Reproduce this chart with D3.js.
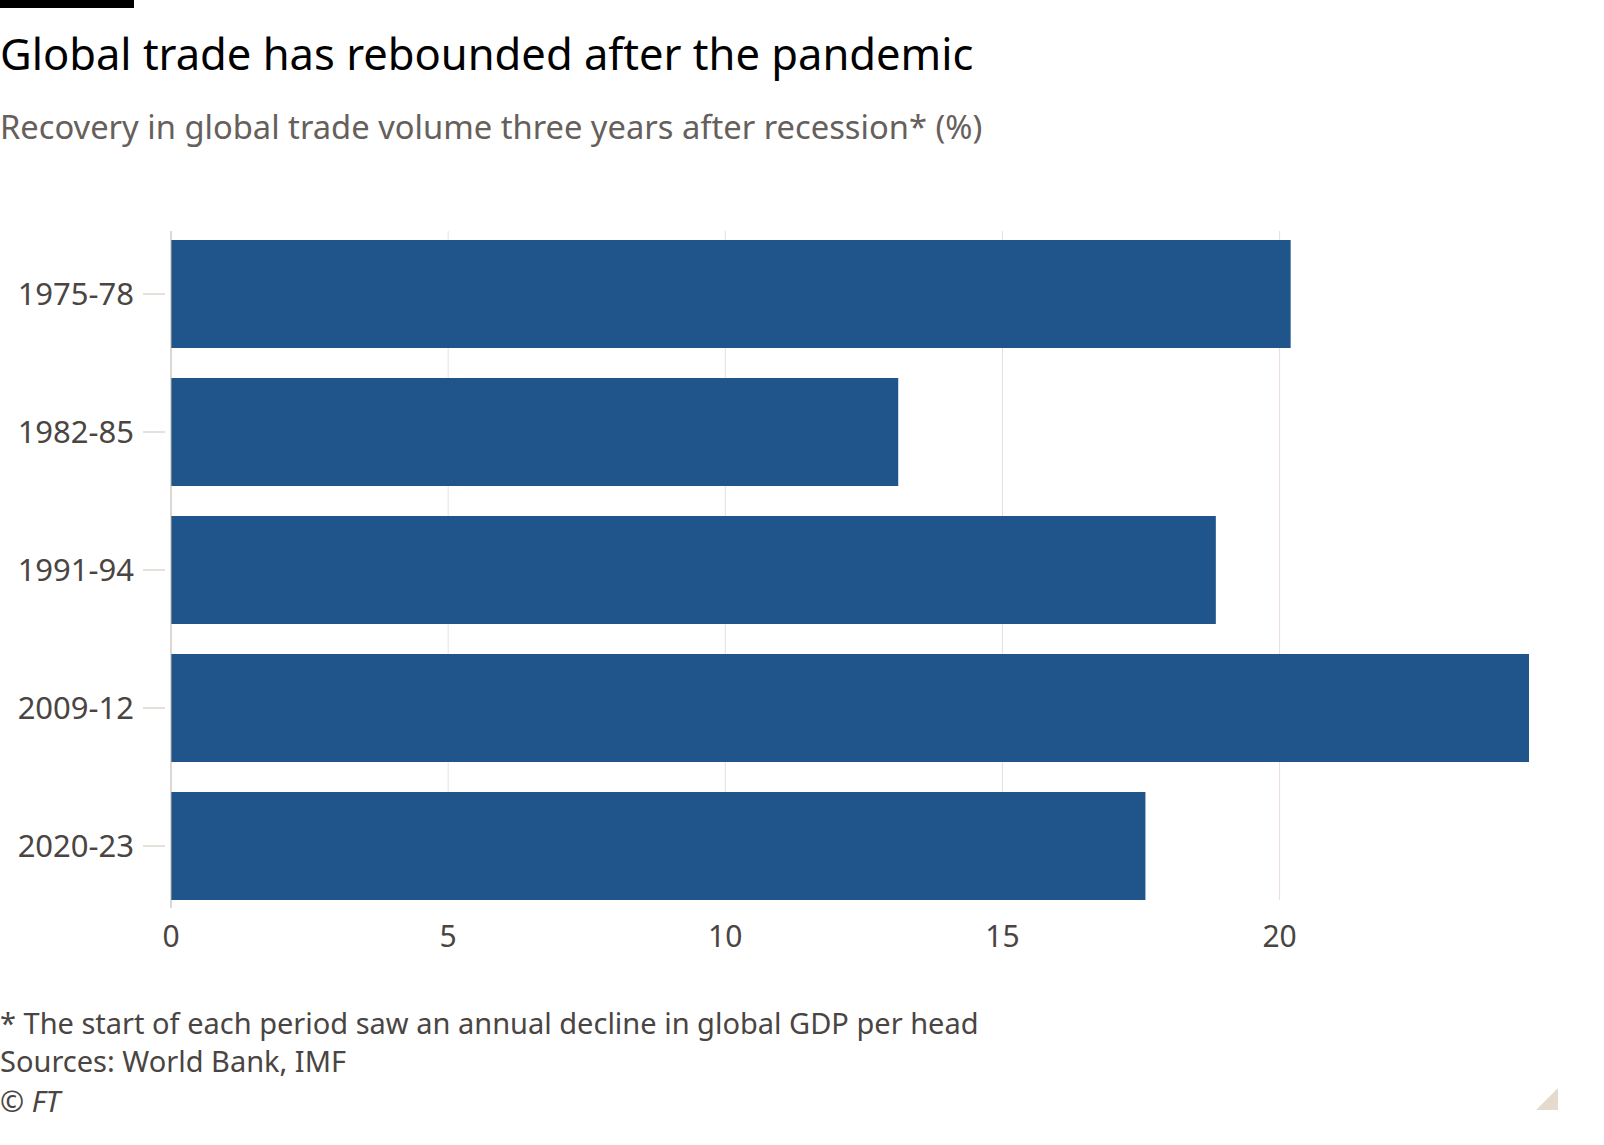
<!DOCTYPE html>
<html lang="en">
<head>
<meta charset="utf-8">
<script src="https://cdn.jsdelivr.net/npm/d3@7"></script>
<style>
  body { margin: 0; background: #fff; font-family: "Noto Sans", sans-serif; }
</style>
</head>
<body>
<script>
// data
var periods = ["1975-78", "1982-85", "1991-94", "2009-12", "2020-23"];
var recovery = [20.2, 13.12, 18.85, 24.5, 17.58];
var xTicks = [0, 5, 10, 15, 20];

var w = 1604, h = 1145;
var left = 171, right = 1529;

var svg = d3.select("body").append("svg").attr("width", w).attr("height", h);

svg.append("rect").attr("x", 0).attr("y", 0).attr("width", 134).attr("height", 8).attr("fill", "#000");

svg.append("text").attr("x", 0).attr("y", 70).text("Global trade has rebounded after the pandemic")
  .attr("font-size", 43.5).attr("fill", "#000");
svg.append("text").attr("x", 0).attr("y", 139).text("Recovery in global trade volume three years after recession* (%)")
  .attr("font-size", 32.7).attr("fill", "#66605c");

var x = d3.scaleLinear().domain([0, 24.5]).range([left, right]);
var y = d3.scaleBand().domain(periods).range([225, 915])
  .paddingInner(30 / 138).paddingOuter(15 / 138);

// gridlines
svg.selectAll(".grid").data(xTicks.slice(1)).enter().append("line")
  .attr("x1", function(d) { return x(d); }).attr("x2", function(d) { return x(d); })
  .attr("y1", 231).attr("y2", 900).attr("stroke", "#e9dfd8").attr("stroke-width", 1);

svg.selectAll(".bar").data(recovery).enter().append("rect")
  .attr("x", x(0))
  .attr("y", function(d, i) { return y(periods[i]); })
  .attr("width", function(d) { return x(d) - x(0); })
  .attr("height", y.bandwidth())
  .attr("fill", "#20558b");

// zero line
svg.append("line").attr("x1", x(0)).attr("x2", x(0)).attr("y1", 231).attr("y2", 908)
  .attr("stroke", "#b8b0aa").attr("stroke-width", 1);

// y ticks and labels
periods.forEach(function(p) {
  var cy = y(p) + y.bandwidth() / 2;
  svg.append("line").attr("x1", 143).attr("x2", 165).attr("y1", cy).attr("y2", cy)
    .attr("stroke", "#ccc1b7").attr("stroke-width", 1);
  svg.append("text").attr("x", 134).attr("y", cy + 11).attr("text-anchor", "end")
    .attr("font-size", 31).attr("fill", "#4a4542").text(p);
});

svg.selectAll(".xt").data(xTicks).enter().append("text")
  .attr("x", function(d) { return x(d); }).attr("y", 947)
  .attr("text-anchor", "middle").attr("font-size", 30).attr("fill", "#4a4542")
  .text(function(d) { return d; });

var notes = ["* The start of each period saw an annual decline in global GDP per head", "Sources: World Bank, IMF"];
notes.forEach(function(t, i) {
  svg.append("text").attr("x", 0).attr("y", 1034 + i * 38).attr("font-size", 29)
    .attr("fill", "#4a4542").text(t);
});
svg.append("text").attr("x", 0).attr("y", 1112).attr("font-size", 29).attr("font-style", "italic")
  .attr("fill", "#4a4542").text("© FT");
svg.append("path").attr("d", "M1558,1088 L1558,1110 L1536,1110 Z").attr("fill", "#e6d9ce");
</script>
</body>
</html>
